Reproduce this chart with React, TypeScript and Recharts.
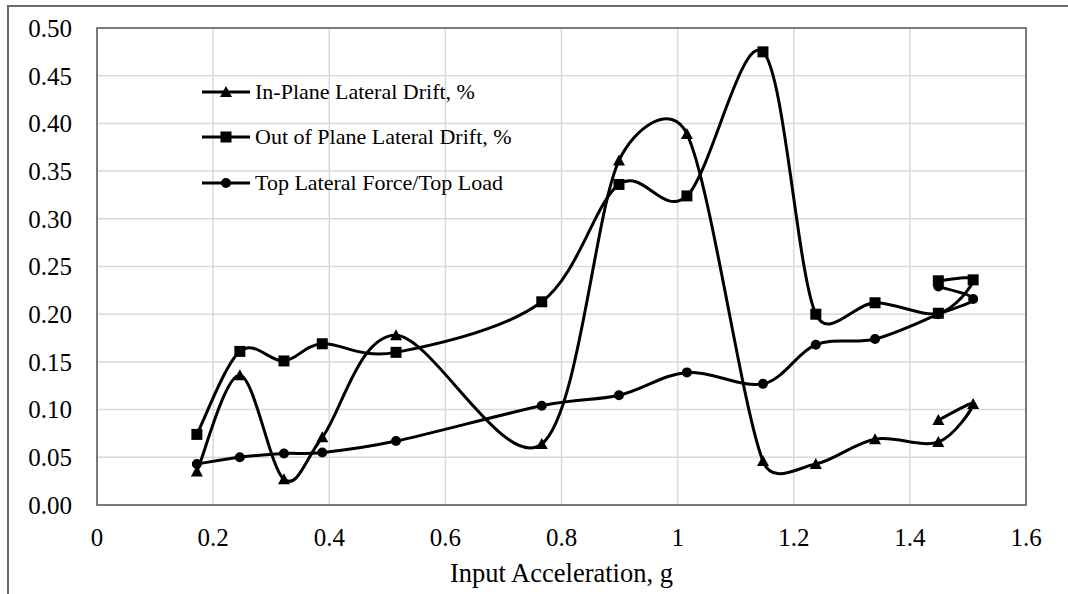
import React from "react";
import {
  CartesianGrid,
  Legend,
  Line,
  LineChart,
  ReferenceArea,
  XAxis,
  YAxis,
} from "recharts";

// Input acceleration for each test run (the last run repeats 1.45 g)
const accel = [0.172, 0.246, 0.322, 0.388, 0.515, 0.766, 0.899, 1.016, 1.147, 1.238, 1.34, 1.449, 1.509, 1.449];
const inPlaneDrift = [0.035, 0.136, 0.027, 0.071, 0.178, 0.064, 0.361, 0.389, 0.046, 0.043, 0.069, 0.066, 0.106, 0.089];
const outOfPlaneDrift = [0.074, 0.161, 0.151, 0.169, 0.16, 0.213, 0.336, 0.324, 0.475, 0.2, 0.212, 0.201, 0.236, 0.235];
const forceRatio = [0.043, 0.05, 0.054, 0.055, 0.067, 0.104, 0.115, 0.139, 0.127, 0.168, 0.174, 0.2, 0.216, 0.229];

const xTicks = [0, 0.2, 0.4, 0.6, 0.8, 1, 1.2, 1.4, 1.6];
const yTicks = [0, 0.05, 0.1, 0.15, 0.2, 0.25, 0.3, 0.35, 0.4, 0.45, 0.5];

const seriesNames = [
  "In-Plane Lateral Drift, %",
  "Out of Plane Lateral Drift, %",
  "Top Lateral Force/Top Load",
];

type Shape = "triangle" | "square" | "circle";
const shapes: Shape[] = ["triangle", "square", "circle"];

const toRows = (ys: number[]) => accel.map((x, i) => ({ x, y: ys[i] }));

const FONT = '"Liberation Serif", "Times New Roman", serif';
const INK = "#000";

// Spreadsheet-style smoothed line: cubic Bezier through every point, tangent
// = (next - prev) / 6, capped at half the segment length. Parametric, so the
// curve can double back where the x value repeats.
const smoothCurve = (context: any) => {
  let pts: [number, number][] = [];
  const dist = (a: number[], b: number[]) => Math.hypot(b[0] - a[0], b[1] - a[1]);
  const factor = (span: number, seg: number) =>
    span === 0 ? 0 : span / 6 < seg / 2 ? 1 / 6 : seg / (2 * span);
  return {
    areaStart() {},
    areaEnd() {},
    lineStart() {
      pts = [];
    },
    point(x: number, y: number) {
      pts.push([+x, +y]);
    },
    lineEnd() {
      const n = pts.length;
      if (!n) return;
      context.moveTo(pts[0][0], pts[0][1]);
      for (let i = 0; i < n - 1; i++) {
        const p0 = pts[Math.max(i - 1, 0)];
        const p1 = pts[i];
        const p2 = pts[i + 1];
        const p3 = pts[Math.min(i + 2, n - 1)];
        const seg = dist(p1, p2);
        const f1 = factor(dist(p0, p2), seg);
        const f2 = factor(dist(p1, p3), seg);
        context.bezierCurveTo(
          p1[0] + (p2[0] - p0[0]) * f1,
          p1[1] + (p2[1] - p0[1]) * f1,
          p2[0] - (p3[0] - p1[0]) * f2,
          p2[1] - (p3[1] - p1[1]) * f2,
          p2[0],
          p2[1]
        );
      }
    },
  };
};

function markerPath(shape: Shape, cx: number, cy: number) {
  if (shape === "square") {
    const h = 5.5;
    return `M${cx - h},${cy - h}H${cx + h}V${cy + h}H${cx - h}Z`;
  }
  if (shape === "triangle") {
    return `M${cx},${cy - 6}L${cx + 6},${cy + 5}L${cx - 6},${cy + 5}Z`;
  }
  const r = 5;
  return `M${cx - r},${cy}a${r},${r} 0 1,0 ${2 * r},0a${r},${r} 0 1,0 ${-2 * r},0Z`;
}

const makeDot = (shape: Shape) => (props: any) => {
  const { cx, cy, index } = props;
  return <path key={`${shape}-${index}`} d={markerPath(shape, cx, cy)} fill={INK} />;
};

function LegendBox() {
  return (
    <div style={{ fontFamily: FONT, fontSize: 22, color: INK }}>
      {seriesNames.map((name, i) => (
        <div key={name} style={{ display: "flex", alignItems: "center", height: 45.5 }}>
          <svg width={53} height={16}>
            <line x1={0} y1={8} x2={48} y2={8} stroke={INK} strokeWidth={3} />
            <path d={markerPath(shapes[i], 24, 8)} fill={INK} />
          </svg>
          <span>{name}</span>
        </div>
      ))}
    </div>
  );
}

export default function App() {
  const series = [inPlaneDrift, outOfPlaneDrift, forceRatio];
  return (
    <div
      style={{
        position: "absolute",
        left: 0,
        top: 0,
        width: 1068,
        height: 594,
        background: "#fff",
        overflow: "hidden",
      }}
    >
      <div
        style={{
          position: "absolute",
          left: 7,
          top: 5,
          width: 1100,
          height: 620,
          borderTop: "2px solid #6b6b6b",
          borderLeft: "2px solid #6b6b6b",
        }}
      />
      <LineChart
        width={1068}
        height={594}
        margin={{ top: 28, right: 42, bottom: 0, left: 17 }}
        style={{ fontFamily: FONT }}
      >
        <CartesianGrid stroke="#d9d9d9" strokeWidth={1.5} />
        <XAxis
          type="number"
          dataKey="x"
          domain={[0, 1.6]}
          ticks={xTicks}
          allowDuplicatedCategory={false}
          height={89}
          axisLine={false}
          tickLine={false}
          tickSize={0}
          tickMargin={23}
          tick={{ fill: INK, fontSize: 25, fontFamily: FONT }}
          tickFormatter={(v: number) => String(v)}
          label={{
            value: "Input Acceleration, g",
            position: "insideBottom",
            offset: 12,
            fill: INK,
            fontSize: 26.5,
            fontFamily: FONT,
          }}
        />
        <YAxis
          type="number"
          dataKey="y"
          domain={[0, 0.5]}
          ticks={yTicks}
          width={80}
          axisLine={false}
          tickLine={false}
          tickSize={0}
          tickMargin={25}
          tick={{ fill: INK, fontSize: 25, fontFamily: FONT }}
          tickFormatter={(v: number) => v.toFixed(2)}
        />
        <ReferenceArea
          x1={0}
          x2={1.6}
          y1={0}
          y2={0.5}
          fill="none"
          stroke="#595959"
          strokeWidth={1.5}
          ifOverflow="visible"
        />
        {series.map((ys, i) => (
          <Line
            key={seriesNames[i]}
            name={seriesNames[i]}
            data={toRows(ys)}
            dataKey="y"
            type={smoothCurve as any}
            stroke={INK}
            strokeWidth={3}
            dot={makeDot(shapes[i])}
            activeDot={false}
            isAnimationActive={false}
          />
        ))}
        <Legend
          layout="vertical"
          verticalAlign="middle"
          align="center"
          content={() => <LegendBox />}
          wrapperStyle={{ left: 202, top: 69, width: 380 }}
        />
      </LineChart>
    </div>
  );
}
